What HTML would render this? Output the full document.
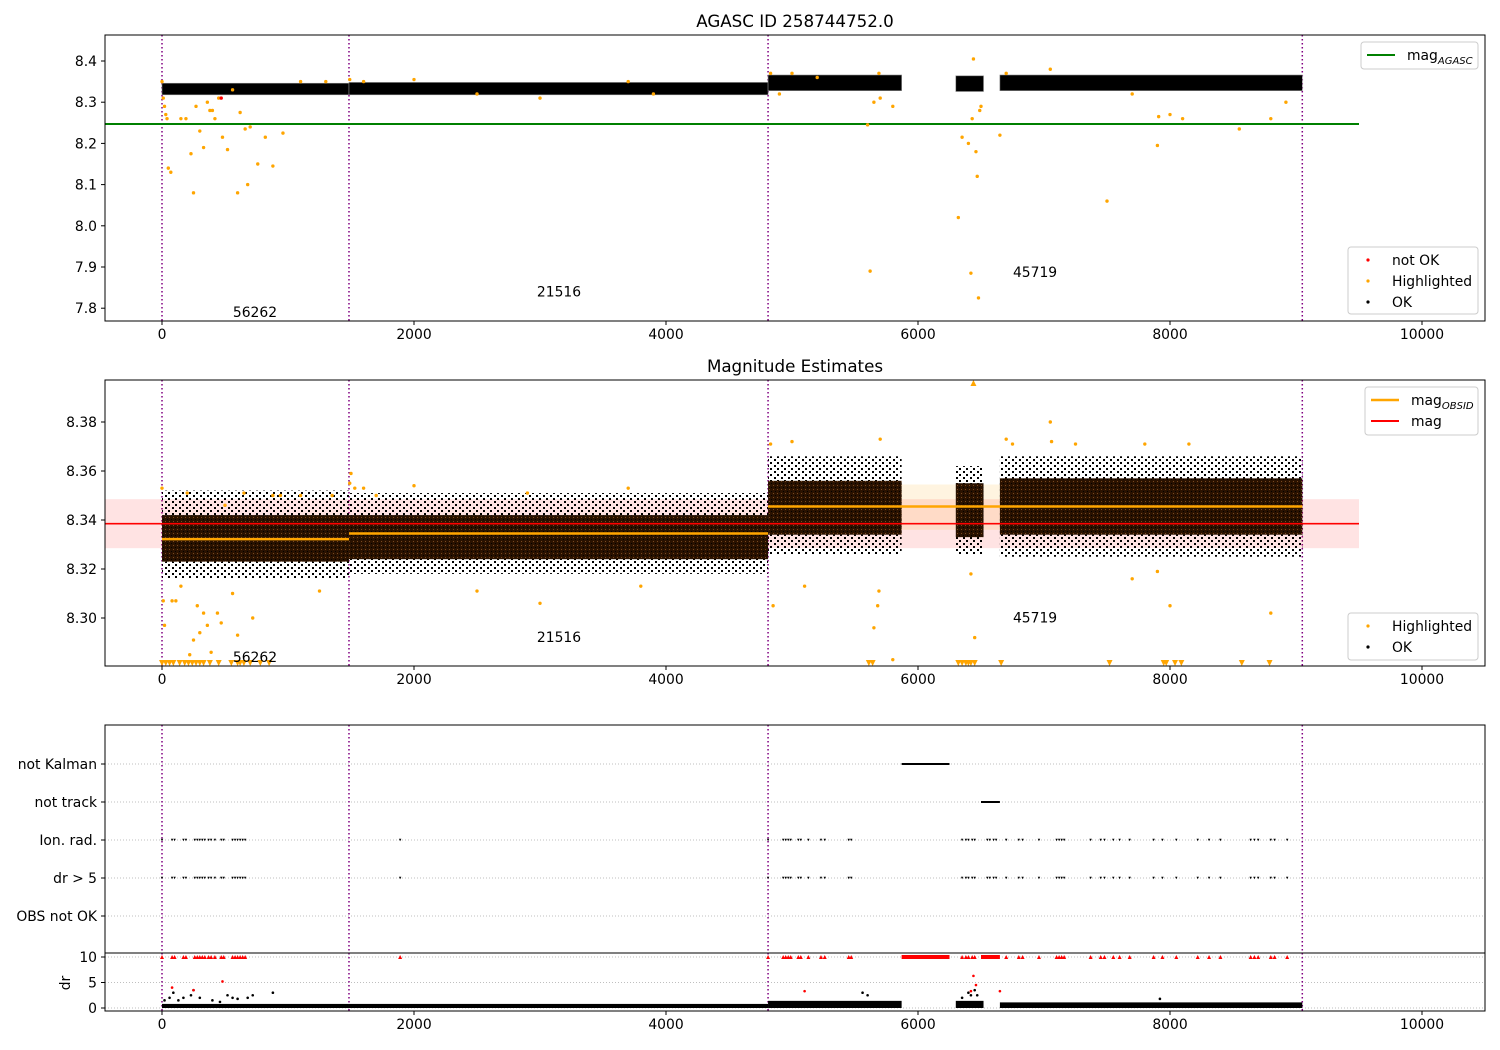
<!DOCTYPE html>
<html><head><meta charset="utf-8"><style>
html,body{margin:0;padding:0;background:#fff;}
svg{display:block;font-family:"DejaVu Sans","Liberation Sans",sans-serif;}
</style></head><body>
<svg id="fig" width="1500" height="1050" viewBox="0 0 1500 1050" xmlns="http://www.w3.org/2000/svg">
<defs>
<pattern id="speck" width="7" height="6" patternUnits="userSpaceOnUse"><rect x="0" y="0" width="2" height="2" fill="#000"/><rect x="4" y="3" width="2" height="2" fill="#000"/></pattern>
<pattern id="speck2" width="4" height="4" patternUnits="userSpaceOnUse"><rect x="0" y="0" width="4" height="4" fill="#2a1200"/><rect x="1" y="1" width="1" height="1" fill="#7a4a20"/><rect x="3" y="3" width="1" height="1" fill="#000"/></pattern>
</defs>
</svg>
<script>
// ---- data ----
const obsBounds = [0, 1484, 4810, 9050];
const obsLabels = ["56262", "21516", "45719"];
const obsLabelPos = [[738, 7.791], [3151, 7.84], [6929, 7.888]];
const obsLabelPosMid = [[738, 8.2841], [3151, 8.2923], [6929, 8.3003]];
const magAgasc = 8.247;
const magMean = 8.3385;
const magBand = [8.3285, 8.3485];
const obsMag = [[0, 1484, 8.3322], [1484, 4810, 8.3345], [4810, 9050, 8.3455]];
const obsBand = [[4810, 9050, 8.336, 8.3545]];
const topCore = [[0,1484,8.318,8.346],[1484,4810,8.318,8.348],[4810,5870,8.328,8.366],[6300,6520,8.326,8.364],[6650,9050,8.328,8.366]];
const midOuter = [[0,1484,8.316,8.352],[1484,4810,8.318,8.351],[4810,5870,8.326,8.366],[6300,6520,8.326,8.362],[6650,9050,8.325,8.366]];
const midCore = [[0,1484,8.323,8.342],[1484,4810,8.324,8.342],[4810,5870,8.334,8.356],[6300,6520,8.333,8.355],[6650,9050,8.334,8.357]];
const topHiT = [0,10,20,30,40,50,70,150,190,230,250,270,300,330,360,380,400,420,450,480,520,560,600,620,660,680,700,760,820,880,960,1100,1300,1490,1600,2000,2500,3000,3700,3900,4830,4900,5000,5200,5600,5620,5650,5700,5690,5800,6320,6350,6400,6420,6430,6440,6460,6470,6480,6490,6500,6650,6700,7050,7500,7700,7900,7910,8000,8100,8550,8800,8920];
const topHiM = [8.35,8.31,8.29,8.27,8.26,8.14,8.13,8.26,8.26,8.175,8.08,8.29,8.23,8.19,8.30,8.28,8.28,8.26,8.31,8.215,8.185,8.33,8.08,8.275,8.235,8.10,8.24,8.15,8.215,8.145,8.225,8.35,8.35,8.355,8.35,8.355,8.32,8.31,8.35,8.32,8.37,8.32,8.37,8.36,8.245,7.89,8.30,8.31,8.37,8.29,8.02,8.215,8.20,7.885,8.26,8.405,8.18,8.12,7.825,8.28,8.29,8.22,8.37,8.38,8.06,8.32,8.195,8.265,8.27,8.26,8.235,8.26,8.30];
const topNotOkT = [470];
const topNotOkM = [8.31];
const midHiT = [0,10,20,80,110,150,200,220,250,280,300,330,360,390,440,470,500,560,600,650,720,880,940,1100,1250,1350,1490,1500,1530,1600,1700,2000,2500,2900,3000,3700,3800,4830,4850,5000,5100,5650,5680,5690,5700,5800,6420,6450,6700,6750,7050,7060,7250,7700,7800,7900,8000,8150,8800];
const midHiM = [8.353,8.307,8.297,8.307,8.307,8.313,8.351,8.285,8.291,8.305,8.294,8.302,8.297,8.286,8.302,8.298,8.346,8.31,8.293,8.351,8.30,8.35,8.35,8.35,8.311,8.35,8.355,8.359,8.353,8.353,8.35,8.354,8.311,8.351,8.306,8.353,8.313,8.371,8.305,8.372,8.313,8.296,8.305,8.311,8.373,8.283,8.318,8.292,8.373,8.371,8.38,8.372,8.371,8.316,8.371,8.319,8.305,8.371,8.302];
const midLowT = [0,30,60,90,140,180,210,240,270,300,330,380,450,550,600,620,650,700,780,850,5610,5640,6320,6350,6380,6400,6420,6450,6660,7520,7950,7970,8040,8090,8570,8790];
const midHighT = [6440];
const flagCats = ["not Kalman","not track","Ion. rad.","dr > 5","OBS not OK"];
const ionT = [0,80,100,170,190,260,280,300,320,340,370,390,420,470,490,560,580,600,620,640,660,1890,4810,4930,4950,4970,4990,5050,5070,5130,5230,5260,5450,5470,6350,6380,6400,6430,6450,6550,6570,6600,6620,6700,6800,6830,6960,7100,7120,7140,7160,7370,7450,7480,7550,7600,7680,7870,7940,8050,8220,8310,8400,8640,8670,8700,8800,8830,8930];
const kalmanRange = [5870, 6250];
const trackRange = [6500, 6650];
const drSeg = [[0,1484,0,0.8],[1484,4810,0,0.8],[4810,5870,0,1.4],[6300,6520,0,1.4],[6650,9050,0,1.1]];
const drHiT = [20,60,90,130,170,230,250,300,400,460,520,560,600,680,720,880,5560,5600,6350,6400,6420,6450,6470,7920];
const drHiD = [1.5,2,3,1.5,2,2.5,3.5,2,1.5,1.2,2.5,2,1.8,2,2.5,3,3,2.5,2,3,2.5,3.5,2.5,1.8];
const drRedT = [80,250,480,5100,6420,6440,6460,6650];
const drRedD = [4,3.5,5.2,3.3,3.3,6.3,4.5,3.3];
const xTicks = [0,2000,4000,6000,8000,10000];
const topYTicks = [8.4,8.3,8.2,8.1,8.0,7.9,7.8];
const midYTicks = [8.38,8.36,8.34,8.32,8.30];
const drTicks = [10,5,0];

// ---- scales ----
const X = t => 162 + t * 0.126;
const YT = m => 61 + (8.4 - m) * 412;
const YM = m => 422 + (8.38 - m) * 2450;
const catY = [764, 802, 840, 878, 916];
const YD = d => 1008 - d * 5.1;
const L = 105, R = 1485;

const svg = document.getElementById('fig');
const NS = 'http://www.w3.org/2000/svg';
function el(tag, attrs, parent) {
  const e = document.createElementNS(NS, tag);
  for (const k in attrs) e.setAttribute(k, attrs[k]);
  (parent || svg).appendChild(e);
  return e;
}
function txt(x, y, s, anchor, size, parent) {
  const t = el('text', {x: x, y: y, 'text-anchor': anchor || 'middle', 'font-size': size || 13.9, fill: '#000'}, parent);
  t.textContent = s;
  return t;
}
function clipRect(id, y0, y1) {
  const c = el('clipPath', {id: id}, svg.querySelector('defs'));
  el('rect', {x: L, y: y0, width: R - L, height: y1 - y0}, c);
}
clipRect('cTop', 35, 321); clipRect('cMid', 380, 666); clipRect('cFlag', 725, 953); clipRect('cDr', 953, 1011);

function panel(name, y0, y1, clip) {
  const g = el('g', {'clip-path': 'url(#' + clip + ')'});
  
  
  return g;
}
function frame(name, y0, y1) {
  const r = el('rect', {x: L, y: y0, width: R - L, height: y1 - y0, fill: 'none', stroke: '#000', 'stroke-width': 1});
  
  
}
function vlines(g, y0, y1) {
  obsBounds.forEach(t => {
    const l = el('line', {x1: X(t), x2: X(t), y1: y0, y2: y1, stroke: '#800080', 'stroke-width': 1.5, 'stroke-dasharray': '1.5,2.5'}, g);
    
    
  });
}
function xticks(yb) {
  xTicks.forEach(t => {
    el('line', {x1: X(t), x2: X(t), y1: yb, y2: yb + 4, stroke: '#000'});
    const lb = txt(X(t), yb + 18, String(t));
    
    
  });
}
function yticks(vals, fy, fmt) {
  vals.forEach(v => {
    el('line', {x1: L - 4, x2: L, y1: fy(v), y2: fy(v), stroke: '#000'});
    const lb = txt(L - 8, fy(v) + 5, fmt(v), 'end');
    
    
  });
}
function dot(g, x, y, r, c, name) {
  const d = el('circle', {cx: x, cy: y, r: r, fill: c}, g);
  
  
}
function tri(g, x, y, up, c, s, name) {
  const p = up ? `${x},${y - s} ${x - s},${y + s} ${x + s},${y + s}` : `${x - s},${y - s} ${x + s},${y - s} ${x},${y + s}`;
  const e = el('polygon', {points: p, fill: c}, g);
  
  
}
function legend(x, y, w, h, items) {
  const g = el('g', {});
  
  
  el('rect', {x: x, y: y, width: w, height: h, rx: 3, fill: '#fff', 'fill-opacity': 0.85, stroke: '#ccc'}, g);
  items.forEach((it, i) => {
    const cy = y + 13 + i * 21;
    if (it.type === 'line') el('line', {x1: x + 6, x2: x + 34, y1: cy, y2: cy, stroke: it.c, 'stroke-width': it.w}, g);
    else el('circle', {cx: x + 20, cy: cy, r: 1.6, fill: it.c}, g);
    const t = txt(x + (it.type === 'line' ? 46 : 44), cy + 5, it.label, 'start', 13.9, g);
    if (it.sub) { const s = el('tspan', {'font-size': 10, 'font-style': 'italic', dy: 4}, t); s.textContent = it.sub; }
    
    
  });
}

// ---- titles ----
let t1 = txt(795, 27, 'AGASC ID 258744752.0', 'middle', 16.7);


let t2 = txt(795, 372, 'Magnitude Estimates', 'middle', 16.7);



// ---- top panel ----
const gT = panel('top-panel', 35, 321, 'cTop');
vlines(gT, 35, 321);
const ag = el('line', {x1: L, x2: X(9500), y1: YT(magAgasc), y2: YT(magAgasc), stroke: '#008000', 'stroke-width': 2}, gT);


topCore.forEach(s => {
  const r = el('rect', {x: X(s[0]), y: YT(s[3]), width: X(s[1]) - X(s[0]), height: YT(s[2]) - YT(s[3]), fill: '#000', stroke: '#888', 'stroke-width': 0.6}, gT);
  
  
});
topHiT.forEach((t, i) => dot(gT, X(t), YT(topHiM[i]), 1.7, '#FFA500', 'highlighted-point'));
topNotOkT.forEach((t, i) => dot(gT, X(t), YT(topNotOkM[i]), 1.7, '#FF0000', 'not-ok-point'));
obsLabels.forEach((s, i) => { const l = txt(X(obsLabelPos[i][0]), YT(obsLabelPos[i][1]) + 5, s, 'middle', 13.9, gT);   });
frame('top-axes-frame', 35, 321);
xticks(321);
yticks(topYTicks, YT, v => v.toFixed(1));
legend(1361, 42, 117, 27, [{type: 'line', c: '#008000', w: 2, label: 'mag', sub: 'AGASC'}]);
legend(1348, 247, 130, 67, [{type: 'dot', c: '#FF0000', label: 'not OK'}, {type: 'dot', c: '#FFA500', label: 'Highlighted'}, {type: 'dot', c: '#000', label: 'OK'}]);

// ---- middle panel ----
const gM = panel('middle-panel', 380, 666, 'cMid');
vlines(gM, 380, 666);
const mb = el('rect', {x: L, y: YM(magBand[1]), width: X(9500) - L, height: YM(magBand[0]) - YM(magBand[1]), fill: '#FF0000', 'fill-opacity': 0.11}, gM);


obsBand.forEach(b => {
  const r = el('rect', {x: X(b[0]), y: YM(b[3]), width: X(b[1]) - X(b[0]), height: YM(b[2]) - YM(b[3]), fill: '#FFA500', 'fill-opacity': 0.12}, gM);
  
  
});
midOuter.forEach(s => {
  const r = el('rect', {x: X(s[0]), y: YM(s[3]), width: X(s[1]) - X(s[0]), height: YM(s[2]) - YM(s[3]), fill: 'url(#speck)'}, gM);
  
  
});
midCore.forEach(s => {
  const r = el('rect', {x: X(s[0]), y: YM(s[3]), width: X(s[1]) - X(s[0]), height: YM(s[2]) - YM(s[3]), fill: 'url(#speck2)'}, gM);
  
  
});
const ml = el('line', {x1: L, x2: X(9500), y1: YM(magMean), y2: YM(magMean), stroke: '#FF0000', 'stroke-width': 1.6}, gM);


obsMag.forEach(o => {
  const l = el('line', {x1: X(o[0]), x2: X(o[1]), y1: YM(o[2]), y2: YM(o[2]), stroke: '#FFA500', 'stroke-width': 2.5}, gM);
  
  
});
midHiT.forEach((t, i) => dot(gM, X(t), YM(midHiM[i]), 1.7, '#FFA500', 'highlighted-point'));
midLowT.forEach(t => tri(gM, X(t), 663, false, '#FFA500', 3, 'below-range-marker'));
midHighT.forEach(t => tri(gM, X(t), 383, true, '#FFA500', 3, 'above-range-marker'));
obsLabels.forEach((s, i) => { const l = txt(X(obsLabelPosMid[i][0]), YM(obsLabelPosMid[i][1]) + 5, s, 'middle', 13.9, gM);   });
frame('middle-axes-frame', 380, 666);
xticks(666);
yticks(midYTicks, YM, v => v.toFixed(2));
legend(1365, 387, 113, 48, [{type: 'line', c: '#FFA500', w: 2.5, label: 'mag', sub: 'OBSID'}, {type: 'line', c: '#FF0000', w: 2, label: 'mag'}]);
legend(1348, 613, 130, 47, [{type: 'dot', c: '#FFA500', label: 'Highlighted'}, {type: 'dot', c: '#000', label: 'OK'}]);

// ---- flags panel ----
const gF = panel('flags-panel', 725, 953, 'cFlag');
catY.forEach(y => el('line', {x1: L, x2: R, y1: y, y2: y, stroke: '#aaa', 'stroke-width': 0.8, 'stroke-dasharray': '1,2'}, gF));
vlines(gF, 725, 953);
ionT.forEach(t => { tri(gF, X(t), catY[2], false, '#000', 1.2, 'ion-rad-flag'); tri(gF, X(t), catY[3], false, '#000', 1.2, 'dr5-flag'); });
const kl = el('rect', {x: X(kalmanRange[0]), y: catY[0] - 1, width: X(kalmanRange[1]) - X(kalmanRange[0]), height: 2, fill: '#000'}, gF);


const tr = el('rect', {x: X(trackRange[0]), y: catY[1] - 1, width: X(trackRange[1]) - X(trackRange[0]), height: 2, fill: '#000'}, gF);


frame('flags-axes-frame', 725, 953);
flagCats.forEach((c, i) => {
  el('line', {x1: L - 4, x2: L, y1: catY[i], y2: catY[i], stroke: '#000'});
  const l = txt(L - 8, catY[i] + 5, c, 'end');
  
  
});

// ---- dr panel ----
const gD = panel('dr-panel', 953, 1011, 'cDr');
drTicks.forEach(d => el('line', {x1: L, x2: R, y1: YD(d), y2: YD(d), stroke: '#aaa', 'stroke-width': 0.8, 'stroke-dasharray': '1,2'}, gD));
vlines(gD, 953, 1011);
drSeg.forEach(s => {
  const r = el('rect', {x: X(s[0]), y: YD(s[3]), width: X(s[1]) - X(s[0]), height: YD(s[2]) - YD(s[3]), fill: '#000'}, gD);
  
  
});
drHiT.forEach((t, i) => dot(gD, X(t), YD(drHiD[i]), 1.3, '#000', 'dr-point'));
drRedT.forEach((t, i) => dot(gD, X(t), YD(drRedD[i]), 1.3, '#FF0000', 'dr-not-ok-point'));
ionT.forEach(t => tri(gD, X(t), YD(10), true, '#FF0000', 2, 'dr-clipped-marker'));
const kr = el('rect', {x: X(kalmanRange[0]), y: YD(10) - 2, width: X(kalmanRange[1]) - X(kalmanRange[0]), height: 4, fill: '#FF0000'}, gD);


const tr2 = el('rect', {x: X(trackRange[0]), y: YD(10) - 2, width: X(trackRange[1]) - X(trackRange[0]), height: 4, fill: '#FF0000'}, gD);


frame('dr-axes-frame', 953, 1011);
xticks(1011);
yticks(drTicks, YD, v => String(v));
const dl = el('text', {x: 70, y: 983, 'font-size': 13.9, 'text-anchor': 'middle', transform: 'rotate(-90 70 983)'});
dl.textContent = 'dr';


</script>
</body></html>
